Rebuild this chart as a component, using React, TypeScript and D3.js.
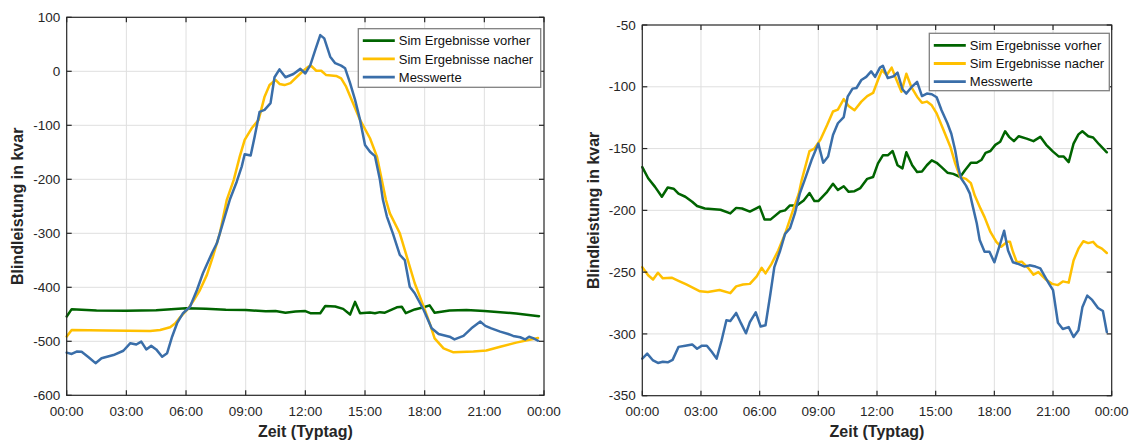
import React from "react";
import * as d3 from "d3";

// Typical-day reactive power profiles, [hour of day, kvar]
const leftVorher: [number, number][] = [
  [0, -454], [0.25, -440.5], [1.5, -443], [3, -443.5], [4.5, -442.5], [6, -439], [7, -439.5],
  [8, -441.5], [9, -442], [10, -444.5], [10.5, -444], [11, -447], [11.5, -445], [12, -444],
  [12.25, -448], [12.75, -448], [13, -434.5], [13.5, -435.5], [13.9, -440], [14.25, -450.5],
  [14.5, -427], [14.75, -448], [15.25, -446.5], [15.5, -448], [15.75, -446], [16, -447],
  [16.6, -437], [16.85, -436], [17.05, -448], [17.5, -441], [17.95, -437], [18.25, -433.5],
  [18.5, -447], [19.25, -443], [20.1, -442], [21, -444], [21.8, -446], [22.6, -448.5], [23.75, -453.5],
];

const leftNacher: [number, number][] = [
  [0, -491], [0.25, -479], [2, -480], [4.2, -481], [4.7, -479], [5.2, -474], [5.45, -467],
  [5.7, -455.5], [6.05, -442], [6.35, -426.5], [6.7, -405], [7.05, -377], [7.35, -343],
  [7.7, -300], [8.05, -238], [8.4, -201], [8.7, -158], [8.95, -127], [9.3, -105.5], [9.65, -90],
  [9.95, -47], [10.2, -25.5], [10.5, -16], [10.7, -23.5], [10.95, -25.5], [11.25, -22],
  [11.55, -11], [11.9, 1], [12.15, 8.5], [12.3, 9.8], [12.55, 1], [12.8, 1], [13.05, -7],
  [13.55, -8.5], [13.8, -13], [14.05, -28.5], [14.4, -59], [14.75, -90], [15.25, -124],
  [15.6, -158], [16.05, -238], [16.25, -263], [16.75, -300], [17.1, -343], [17.5, -392.5],
  [17.95, -436], [18.25, -466.5], [18.5, -494.5], [18.95, -513], [19.45, -520.5], [20.45, -519],
  [21.1, -517], [21.8, -510], [22.6, -502.5], [23.7, -494],
];

const leftMess: [number, number][] = [
  [0, -521], [0.25, -523.5], [0.5, -519], [0.75, -519.5], [1.1, -529.5], [1.45, -540.5],
  [1.75, -531.5], [2.35, -525.5], [2.85, -517.5], [3.2, -503.5], [3.5, -506], [3.75, -500.5],
  [4, -515], [4.25, -508.5], [4.5, -515], [4.8, -528.5], [5.05, -522], [5.3, -491.5],
  [5.55, -466.5], [5.85, -448], [6.2, -436], [6.55, -405], [6.85, -374], [7.3, -337],
  [7.55, -318.5], [7.85, -281.5], [8.2, -238], [8.55, -204.5], [8.8, -176.5], [8.95, -153.5],
  [9.25, -156], [9.45, -121], [9.7, -75], [9.95, -71.5], [10.25, -59], [10.45, -11], [10.7, 3.5],
  [11, -11], [11.4, -5], [11.75, 4.5], [12, -4], [12.25, 11.5], [12.5, 39.5], [12.75, 67],
  [12.95, 61], [13.25, 27], [13.5, 15], [13.8, 10.5], [14, 5.5], [14.25, -22], [14.5, -53],
  [14.75, -90], [15, -136.5], [15.25, -149], [15.5, -157], [15.75, -201], [15.9, -238],
  [16.1, -269], [16.4, -300], [16.75, -340], [17, -349.5], [17.25, -399], [17.5, -411],
  [17.95, -442], [18.35, -476], [18.7, -486.5], [19.25, -491.5], [19.5, -496.5], [19.95, -490],
  [20.35, -476], [20.8, -463.5], [21.05, -471.5], [21.35, -476], [21.8, -482], [22.2, -486.5],
  [22.45, -490], [22.8, -492.5], [23.05, -496.5], [23.25, -491.5], [23.45, -494], [23.7, -499],
];

const rightVorher: [number, number][] = [
  [0, -165], [0.3, -174], [0.65, -181], [1.0, -189], [1.3, -181.5], [1.6, -182.5], [1.85, -186.5],
  [2.2, -189], [2.55, -193], [2.8, -196.5], [3.2, -198.5], [4.0, -199.5], [4.5, -202.5],
  [4.8, -198], [5.1, -198.5], [5.5, -201], [6.0, -197], [6.25, -207.5], [6.55, -207.5],
  [7.05, -201], [7.3, -200], [7.55, -196], [7.9, -196], [8.25, -192], [8.55, -186], [8.8, -192.5],
  [9.0, -192.5], [9.45, -185], [9.75, -178.5], [10.0, -183.5], [10.3, -180.5], [10.55, -185],
  [10.85, -184.5], [11.15, -182], [11.5, -174.5], [11.8, -173], [12.05, -162], [12.3, -155.5],
  [12.55, -155.5], [12.8, -152], [13.05, -163.5], [13.3, -166], [13.5, -153], [13.8, -163.5],
  [14.05, -169], [14.3, -168.5], [14.55, -163.5], [14.8, -159.5], [15.05, -161.5], [15.3, -165],
  [15.6, -169.5], [15.9, -170.5], [16.25, -173], [16.5, -167.5], [16.8, -161.5], [17.1, -161.5],
  [17.35, -159], [17.55, -153.5], [17.8, -152], [18.05, -147], [18.3, -144.5], [18.55, -136],
  [18.75, -140.5], [19.0, -144], [19.25, -140], [19.65, -142], [20.0, -144], [20.35, -140.5],
  [20.65, -147], [21.0, -152.5], [21.3, -156.5], [21.55, -156.5], [21.8, -161], [22.05, -146],
  [22.3, -138.5], [22.5, -136], [22.8, -140], [23.05, -141], [23.35, -146.5], [23.75, -153],
];

const rightNacher: [number, number][] = [
  [0, -246], [0.3, -252.5], [0.55, -256], [0.8, -250.5], [1.05, -255], [1.5, -254.5],
  [1.85, -257], [2.25, -260], [2.7, -263.5], [2.95, -265.5], [3.35, -266], [3.95, -264.5],
  [4.5, -267], [4.8, -261.5], [5.15, -260], [5.5, -259.5], [5.85, -253.5], [6.1, -246.5],
  [6.3, -251], [6.6, -243.5], [6.95, -232.5], [7.3, -219], [7.65, -202.5], [8.0, -186.5],
  [8.15, -175.5], [8.55, -152], [8.8, -150], [9.1, -143], [9.45, -131], [9.75, -120],
  [10.0, -118.5], [10.3, -110], [10.55, -115.5], [10.85, -119], [11.2, -112], [11.5, -107.5],
  [11.8, -105], [12.05, -94.5], [12.25, -86.5], [12.5, -90.5], [12.75, -84.5], [13.0, -94.5],
  [13.25, -104], [13.5, -89.5], [13.75, -100], [14.05, -108], [14.3, -113], [14.55, -112],
  [14.8, -115], [15.05, -121.5], [15.4, -135], [15.75, -148.5], [16.0, -162], [16.25, -173],
  [16.55, -174.5], [16.8, -178], [17.0, -188], [17.25, -197], [17.5, -205.5], [17.8, -217.5],
  [18.1, -225.5], [18.35, -229.5], [18.65, -225.5], [18.8, -225.5], [18.95, -233.5],
  [19.15, -242], [19.4, -241.5], [19.75, -247], [20.0, -252], [20.25, -250], [20.6, -255.5],
  [20.95, -259.5], [21.25, -260.5], [21.5, -257.5], [21.8, -258.5], [22.05, -240.5],
  [22.3, -231], [22.55, -225], [22.8, -226.5], [23.05, -225.5], [23.25, -229], [23.5, -231],
  [23.75, -234.5],
];

const rightMess: [number, number][] = [
  [0, -320], [0.25, -316], [0.55, -321.5], [0.8, -323.5], [1.05, -322.5], [1.3, -323],
  [1.55, -321], [1.85, -310.5], [2.2, -309.5], [2.55, -308.5], [2.8, -312], [3.05, -309.5],
  [3.3, -309.5], [3.55, -314.5], [3.8, -320], [4.05, -305.5], [4.3, -289], [4.5, -289.5],
  [4.8, -283], [5.05, -291.5], [5.3, -299.5], [5.5, -290.5], [5.8, -282.5], [6.05, -294],
  [6.3, -293], [6.55, -267.5], [6.75, -246], [7.05, -232.5], [7.3, -219], [7.55, -214.5],
  [7.8, -202.5], [8.05, -186.5], [8.3, -175.5], [8.65, -159.5], [9.0, -146], [9.25, -161.5],
  [9.5, -156.5], [9.75, -139], [10.0, -129.5], [10.3, -124.5], [10.5, -108], [10.75, -101.5],
  [10.95, -101], [11.2, -94.5], [11.45, -92], [11.7, -87.5], [11.9, -92], [12.15, -84.5],
  [12.3, -83], [12.55, -93], [12.85, -91.5], [13.05, -88.5], [13.3, -102], [13.5, -105.5],
  [13.75, -100.5], [14.05, -96], [14.3, -107.5], [14.55, -105.5], [14.8, -106], [15.05, -108.5],
  [15.3, -119], [15.6, -129.5], [15.8, -138], [16.0, -151.5], [16.15, -165], [16.3, -174],
  [16.55, -180], [16.75, -186.5], [16.9, -197], [17.1, -210.5], [17.25, -224], [17.5, -233.5],
  [17.75, -233.5], [18.0, -242], [18.3, -227], [18.5, -216.5], [18.7, -232.5], [18.95, -242],
  [19.25, -243.5], [19.55, -245.5], [19.8, -244.5], [20.1, -245.5], [20.35, -247], [20.6, -254],
  [20.8, -259.5], [21.0, -264.5], [21.25, -291], [21.5, -296], [21.8, -294.5], [22.05, -302.5],
  [22.3, -297], [22.5, -278.5], [22.75, -269], [23.0, -272.5], [23.3, -279], [23.55, -281.5],
  [23.75, -298.5],
];

const hourTicks = [0, 3, 6, 9, 12, 15, 18, 21, 24];
const leftYTicks = [100, 0, -100, -200, -300, -400, -500, -600];
const rightYTicks = [-50, -100, -150, -200, -250, -300, -350];
const seriesNames = ["Sim Ergebnisse vorher", "Sim Ergebnisse nacher", "Messwerte"];
const seriesColors = ["#006400", "#FFC000", "#3A6EA9"];
const xLabel = "Zeit (Typtag)";
const yLabel = "Blindleistung in kvar";

const FONT = "'Liberation Sans', Arial, Helvetica, sans-serif";
const fmtHour = (h: number) => String(h % 24).padStart(2, "0") + ":00";

type PanelProps = {
  left: number;
  right: number;
  top: number;
  bottom: number;
  yDomain: [number, number];
  yTicks: number[];
  series: [number, number][][];
  legendX: number;
  legendY: number;
  legendW: number;
  legendH: number;
  yLabelX: number;
};

function Panel(p: PanelProps) {
  const x = d3.scaleLinear().domain([0, 24]).range([p.left, p.right]);
  const y = d3.scaleLinear().domain(p.yDomain).range([p.bottom, p.top]);
  const line = d3
    .line<[number, number]>()
    .x((d) => x(d[0]))
    .y((d) => y(d[1]));
  const tick = 5;
  const axisColor = "#262626";
  const gridColor = "#dfdfdf";
  const rowH = 18.2;
  return (
    <g>
      {/* grid */}
      {hourTicks.slice(1, -1).map((h) => (
        <line key={"gx" + h} x1={x(h)} x2={x(h)} y1={p.top} y2={p.bottom} stroke={gridColor} strokeWidth={1} />
      ))}
      {p.yTicks.slice(1, -1).map((v) => (
        <line key={"gy" + v} x1={p.left} x2={p.right} y1={y(v)} y2={y(v)} stroke={gridColor} strokeWidth={1} />
      ))}
      {/* data */}
      {p.series.map((s, i) => (
        <path
          key={"s" + i}
          d={line(s) || ""}
          fill="none"
          stroke={seriesColors[i]}
          strokeWidth={2.5}
          strokeLinejoin="round"
          strokeLinecap="round"
        />
      ))}
      {/* box and ticks */}
      <rect x={p.left} y={p.top} width={p.right - p.left} height={p.bottom - p.top} fill="none" stroke={axisColor} strokeWidth={1.2} />
      {hourTicks.map((h) => (
        <g key={"tx" + h}>
          <line x1={x(h)} x2={x(h)} y1={p.bottom} y2={p.bottom - tick} stroke={axisColor} strokeWidth={1.2} />
          <line x1={x(h)} x2={x(h)} y1={p.top} y2={p.top + tick} stroke={axisColor} strokeWidth={1.2} />
          <text x={x(h)} y={416} textAnchor="middle" fontSize={13.5} fill={axisColor} fontFamily={FONT}>
            {fmtHour(h)}
          </text>
        </g>
      ))}
      {p.yTicks.map((v) => (
        <g key={"ty" + v}>
          <line x1={p.left} x2={p.left + tick} y1={y(v)} y2={y(v)} stroke={axisColor} strokeWidth={1.2} />
          <line x1={p.right} x2={p.right - tick} y1={y(v)} y2={y(v)} stroke={axisColor} strokeWidth={1.2} />
          <text x={p.left - 6.5} y={y(v) + 4.7} textAnchor="end" fontSize={13.5} fill={axisColor} fontFamily={FONT}>
            {v}
          </text>
        </g>
      ))}
      {/* axis titles */}
      <text
        x={(p.left + p.right) / 2}
        y={437}
        textAnchor="middle"
        fontSize={16}
        fontWeight="bold"
        fill={axisColor}
        fontFamily={FONT}
      >
        {xLabel}
      </text>
      <text
        transform={`translate(${p.yLabelX},${(p.top + p.bottom) / 2}) rotate(-90)`}
        textAnchor="middle"
        fontSize={16}
        fontWeight="bold"
        fill={axisColor}
        fontFamily={FONT}
      >
        {yLabel}
      </text>
      {/* legend */}
      <rect x={p.legendX} y={p.legendY} width={p.legendW} height={p.legendH} fill="#ffffff" stroke="#808080" strokeWidth={1.3} />
      {seriesNames.map((name, i) => {
        const cy = p.legendY + 12 + i * rowH;
        return (
          <g key={"lg" + i}>
            <line x1={p.legendX + 4.5} x2={p.legendX + 36.5} y1={cy} y2={cy} stroke={seriesColors[i]} strokeWidth={2.8} />
            <text x={p.legendX + 40.5} y={cy + 4.6} fontSize={13} fill="#111" fontFamily={FONT}>
              {name}
            </text>
          </g>
        );
      })}
    </g>
  );
}

export default function App() {
  return (
    <svg
      width={1132}
      height={442}
      viewBox="0 0 1132 442"
      style={{ position: "absolute", left: 0, top: 0, display: "block", background: "#fff" }}
    >
      <rect x={0} y={0} width={1132} height={442} fill="#fff" />
      <Panel
        left={66.7}
        right={544}
        top={17.3}
        bottom={395.3}
        yDomain={[-600, 100]}
        yTicks={leftYTicks}
        series={[leftVorher, leftNacher, leftMess]}
        legendX={358.3}
        legendY={28.7}
        legendW={182.4}
        legendH={58.6}
        yLabelX={22.5}
      />
      <Panel
        left={642.3}
        right={1111.7}
        top={25}
        bottom={395.7}
        yDomain={[-350, -50]}
        yTicks={rightYTicks}
        series={[rightVorher, rightNacher, rightMess]}
        legendX={929.3}
        legendY={33.3}
        legendW={180}
        legendH={57.4}
        yLabelX={599}
      />
    </svg>
  );
}
